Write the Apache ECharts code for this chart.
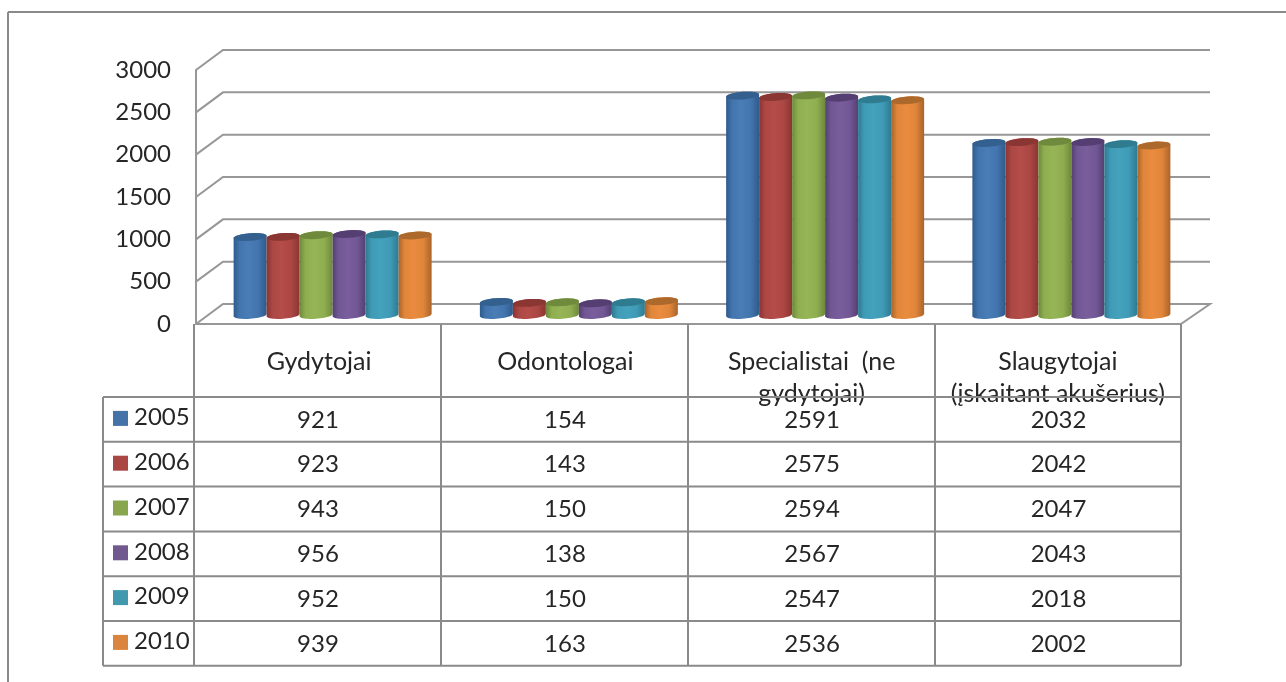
<!DOCTYPE html>
<html>
<head>
<meta charset="utf-8">
<title>chart</title>
<script src="https://cdn.jsdelivr.net/npm/echarts@6/dist/echarts.min.js"></script>
<style>
  html,body{margin:0;padding:0;background:#fff;}
  #main{width:1286px;height:682px;}
</style>
</head>
<body>
<div id="main"></div>
<script>
// data from the picture
const categories = ['Gydytojai', 'Odontologai', 'Specialistai  (ne\ngydytojai)', 'Slaugytojai\n(įskaitant akušerius)'];
const years = ['2005', '2006', '2007', '2008', '2009', '2010'];
const v2005 = [921, 154, 2591, 2032];
const v2006 = [923, 143, 2575, 2042];
const v2007 = [943, 150, 2594, 2047];
const v2008 = [956, 138, 2567, 2043];
const v2009 = [952, 150, 2547, 2018];
const v2010 = [939, 163, 2536, 2002];
const ticks = [0, 500, 1000, 1500, 2000, 2500, 3000];

const rows = [v2005, v2006, v2007, v2008, v2009, v2010];
// [top cap, edge, mid, light]
const shades = [
  ['#34608f', '#2f5b8c', '#4274ad', '#4a7cb6'],
  ['#8a3633', '#8a3532', '#ab4744', '#b54d4a'],
  ['#6f8a3c', '#6e893b', '#8fae50', '#95b556'],
  ['#553f72', '#534070', '#725795', '#795d9c'],
  ['#2f7b90', '#2e7a90', '#3f9ab6', '#44a2bd'],
  ['#ad682c', '#a9642a', '#e0853a', '#ea8c3f']
];
const swatch = ['#4572a7', '#aa4643', '#89a54e', '#71588f', '#4198af', '#db843d'];

const font = 'Lato';
const textColor = '#262626';
const lineColor = '#979797';
const gridL = 196, gridR = 1181, gridT = 70, gridB = 324;
const depthX = 27, depthY = 20;       // wall depth
const barW = 33, rx = 16.5, ry = 3.8, shear = 0.07;
const barDX = 14, barDY = 9;          // bars stand in the middle of the floor

const tableCols = [194, 441, 688, 935, 1181];
const legendL = 103;
const headTop = 324, rowTop = 397, rowH = 44.8;

function arcPts(cx, cy, from, to) {
  const pts = [];
  for (let i = 0; i <= 24; i++) {
    const t = from + (to - from) * i / 24;
    pts.push([cx + rx * Math.cos(t), cy + ry * Math.sin(t) - shear * rx * Math.cos(t)]);
  }
  return pts;
}

function barSeries(name, idx, values) {
  const c = shades[idx];
  return {
    name: name,
    type: 'custom',
    z: 3,
    clip: false,
    data: values.map((v, i) => [i, v]),
    encode: {x: 0, y: 1},
    renderItem: function (params, api) {
      const top = api.coord([api.value(0), api.value(1)]);
      const base = api.coord([api.value(0), 0]);
      const cx = top[0] + barDX + (idx - 2.5) * barW - 0.5;
      const yt = top[1] - barDY, yb = base[1] - barDY;
      const body = arcPts(cx, yb, 0, Math.PI).concat(arcPts(cx, yt, Math.PI, Math.PI * 2));
      return {
        type: 'group',
        children: [{
          type: 'polygon',
          shape: {points: body},
          style: {
            fill: new echarts.graphic.LinearGradient(0, 0, 1, 0, [
              {offset: 0, color: c[1]},
              {offset: 0.18, color: c[2]},
              {offset: 0.45, color: c[3]},
              {offset: 0.75, color: c[2]},
              {offset: 1, color: c[1]}
            ])
          }
        }, {
          type: 'polygon',
          shape: {points: arcPts(cx, yt, 0, Math.PI * 2)},
          style: {fill: c[0]}
        }]
      };
    }
  };
}

// side wall + back wall lines, one per tick
const wallSeries = {
  type: 'custom',
  z: 1,
  clip: false,
  silent: true,
  data: ticks.map(t => [0, t]),
  encode: {x: 0, y: 1},
  renderItem: function (params, api) {
    const y = api.coord([0, api.value(1)])[1];
    const pts = [[gridL, y], [gridL + depthX, y - depthY], [gridR + depthX + 2, y - depthY]];
    if (api.value(1) === 0) pts.push([gridR, y]);
    return {type: 'polyline', shape: {points: pts}, style: {stroke: lineColor, lineWidth: 2, fill: null}};
  }
};

// table drawn around the plot
const elements = [];
function line(x1, y1, x2, y2, color) {
  elements.push({type: 'line', shape: {x1, y1, x2, y2}, style: {stroke: color || '#8a8a8a', lineWidth: 2}, z: 5});
}
function label(text, x, y, align) {
  elements.push({type: 'text', x, y, z: 6, style: {text, font: '24px ' + font, fill: textColor, align: align || 'center', verticalAlign: 'middle'}});
}
line(8, 12, 1286, 12, '#8a8a8a');
line(8, 12, 8, 682, '#8a8a8a');
const tableBottom = rowTop + rowH * rows.length;
tableCols.forEach(x => line(x, headTop, x, tableBottom));
line(legendL, rowTop, legendL, tableBottom);
for (let r = 0; r <= rows.length; r++) {
  const y = rowTop + rowH * r;
  line(legendL, y, gridR, y);
}
years.forEach((yr, r) => {
  const yc = rowTop + rowH * (r + 0.5);
  elements.push({type: 'rect', shape: {x: 113, y: yc - 8.5, width: 15, height: 15}, style: {fill: swatch[r]}, z: 6});
  label(yr, 134, yc - 2, 'left');
  rows[r].forEach((v, c) => label(String(v), (tableCols[c] + tableCols[c + 1]) / 2 + 0.5, yc + 0.5));
});

const chart = echarts.init(document.getElementById('main'), null, {renderer: 'canvas'});
chart.setOption({
  animation: false,
  backgroundColor: '#fff',
  grid: {left: gridL, top: gridT, width: gridR - gridL, height: gridB - gridT},
  xAxis: {
    type: 'category',
    data: categories,
    axisLine: {show: true, lineStyle: {color: lineColor, width: 2}},
    axisTick: {show: false},
    splitLine: {show: false},
    axisLabel: {
      interval: 0,
      margin: 22,
      verticalAlign: 'top',
      fontFamily: font,
      fontSize: 25,
      lineHeight: 32,
      color: textColor
    }
  },
  yAxis: {
    type: 'value',
    min: 0,
    max: 3000,
    interval: 500,
    axisLine: {show: true, lineStyle: {color: lineColor, width: 2}},
    axisTick: {show: false},
    splitLine: {show: false},
    axisLabel: {
      margin: 25,
      padding: [4, 0, 0, 0],
      fontFamily: font,
      fontSize: 24,
      color: textColor,
      formatter: function (v) { return String(v); }
    }
  },
  graphic: {elements: elements},
  series: [wallSeries].concat(years.map((y, i) => barSeries(y, i, rows[i])))
});
window.addEventListener('resize', function () {
  chart.resize();
});
</script>
</body>
</html>
